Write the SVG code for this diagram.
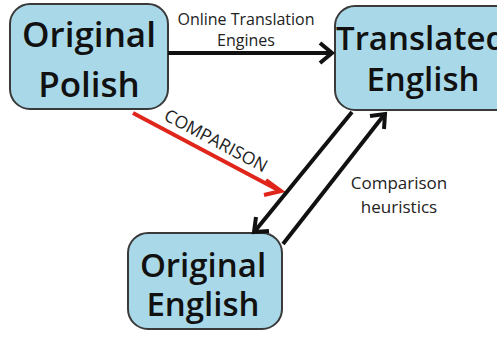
<svg xmlns="http://www.w3.org/2000/svg" width="497" height="340" viewBox="0 0 497 340">
<defs>
<style>
.box{fill:#a9d9e8;stroke:#3a3a3a;stroke-width:2}
.big{font-family:"Open Sans","Noto Sans",sans-serif;font-weight:600;font-size:35px;fill:#111;text-anchor:middle}
.mid{font-size:33px}
.lbl{font-family:"Open Sans","Noto Sans",sans-serif;font-size:16px;fill:#222;text-anchor:middle}
.ln{fill:none;stroke:#111;stroke-width:4;stroke-linecap:butt}
.head{fill:none;stroke:#111;stroke-width:4;stroke-linejoin:miter}
.red{fill:none;stroke:#e0251b;stroke-width:4}
</style>
</defs>
<rect width="497" height="340" fill="#ffffff"/>
<g id="original-polish">
<rect class="box" x="10" y="4" width="158" height="105" rx="20"/>
<text class="big" x="89" y="47">Original</text>
<text class="big" x="89" y="97">Polish</text>
</g>
<g id="translated-english">
<rect class="box" x="335" y="6" width="180" height="104" rx="20"/>
<text class="big mid" x="421" y="50">Translated</text>
<text class="big mid" x="423" y="91">English</text>
</g>
<g id="original-english">
<rect class="box" x="128" y="233" width="154" height="96" rx="20"/>
<text class="big mid" x="203" y="277">Original</text>
<text class="big mid" x="203" y="316">English</text>
</g>
<g id="connectors">
<line class="ln" x1="168" y1="53" x2="331" y2="53"/>
<polyline class="head" points="320,43 332,53 320,63"/>
<line class="red" x1="133" y1="113" x2="280" y2="191"/>
<polyline class="red" points="266,180 281,191 264,195" style="stroke-linejoin:miter"/>
<line class="ln" x1="352" y1="112" x2="255" y2="231"/>
<polyline class="head" points="256,217 254,232 269,231"/>
<line class="ln" x1="283" y1="244" x2="384" y2="115"/>
<polyline class="head" points="370,116 385,114 384,129"/>
</g>
<g id="labels">
<text class="lbl" x="246" y="25">Online Translation</text>
<text class="lbl" x="246" y="46">Engines</text>
<text class="lbl" x="213" y="146" transform="rotate(28 213 146)" style="font-size:17.5px">COMPARISON</text>
<text class="lbl" x="399" y="189" style="font-size:17px">Comparison</text>
<text class="lbl" x="399" y="213" style="font-size:17px">heuristics</text>
</g>
</svg>
